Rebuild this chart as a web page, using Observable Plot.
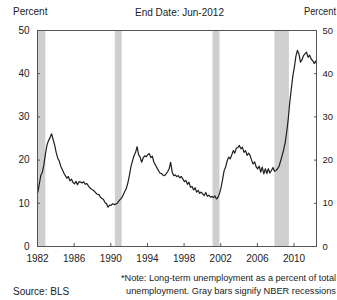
<!DOCTYPE html>
<html>
<head>
<meta charset="utf-8">
<script src="https://cdn.jsdelivr.net/npm/d3@7"></script>
<script src="https://cdn.jsdelivr.net/npm/@observablehq/plot@0.6"></script>
<style>
  html, body { margin: 0; padding: 0; background: #fff; }
  body { width: 337px; height: 300px; overflow: hidden; position: relative; font-family: "Liberation Sans", Arial, sans-serif; color: #222; }
  .t { position: absolute; white-space: nowrap; font-size: 10px; line-height: 1; transform-origin: 0 0; }
  #chart { position: absolute; left: 0; top: 0; }
</style>
</head>
<body>
<div id="chart"></div>
<div class="t" style="left:13px; top:7px;">Percent</div>
<div class="t" style="left:135px; top:8px;">End Date: Jun-2012</div>
<div class="t fit" style="left:304px; top:7px;">Percent</div>
<div class="t fit" style="left:121px; top:273px; font-size:9.5px;">*Note: Long-term unemployment as a percent of total</div>
<div class="t fit" style="left:126px; top:286px; font-size:9.5px;">unemployment. Gray bars signify NBER recessions</div>
<div class="t" style="left:13px; top:287px;">Source: BLS</div>
<script>
const dates = [
  "1982-01","1982-03","1982-05","1982-07","1982-09","1982-11",
  "1983-01","1983-03","1983-05","1983-07","1983-09","1983-11",
  "1984-01","1984-03","1984-05","1984-07","1984-09","1984-11",
  "1985-01","1985-03","1985-05","1985-07","1985-09","1985-11",
  "1986-01","1986-03","1986-05","1986-07","1986-09","1986-11",
  "1987-01","1987-03","1987-05","1987-07","1987-09","1987-11",
  "1988-01","1988-03","1988-05","1988-07","1988-09","1988-11",
  "1989-01","1989-03","1989-05","1989-07","1989-09","1989-11",
  "1990-01","1990-03","1990-05","1990-07","1990-09","1990-11",
  "1991-01","1991-03","1991-05","1991-07","1991-09","1991-11",
  "1992-01","1992-03","1992-05","1992-07","1992-09","1992-11",
  "1993-01","1993-03","1993-05","1993-07","1993-09","1993-11",
  "1994-01","1994-03","1994-05","1994-07","1994-09","1994-11",
  "1995-01","1995-03","1995-05","1995-07","1995-09","1995-11",
  "1996-01","1996-03","1996-05","1996-07","1996-09","1996-11",
  "1997-01","1997-03","1997-05","1997-07","1997-09","1997-11",
  "1998-01","1998-03","1998-05","1998-07","1998-09","1998-11",
  "1999-01","1999-03","1999-05","1999-07","1999-09","1999-11",
  "2000-01","2000-03","2000-05","2000-07","2000-09","2000-11",
  "2001-01","2001-03","2001-05","2001-07","2001-09","2001-11",
  "2002-01","2002-03","2002-05","2002-07","2002-09","2002-11",
  "2003-01","2003-03","2003-05","2003-07","2003-09","2003-11",
  "2004-01","2004-03","2004-05","2004-07","2004-09","2004-11",
  "2005-01","2005-03","2005-05","2005-07","2005-09","2005-11",
  "2006-01","2006-03","2006-05","2006-07","2006-09","2006-11",
  "2007-01","2007-03","2007-05","2007-07","2007-09","2007-11",
  "2008-01","2008-03","2008-05","2008-07","2008-09","2008-11",
  "2009-01","2009-03","2009-05","2009-07","2009-09","2009-11",
  "2010-01","2010-03","2010-05","2010-07","2010-09","2010-11",
  "2011-01","2011-03","2011-05","2011-07","2011-09","2011-11",
  "2012-01","2012-03","2012-05","2012-06"
];
const share = [
  12.6,14.5,16.5,17.2,19.0,21.5,
  23.5,24.5,25.2,26.1,24.8,23.5,
  21.8,20.5,19.8,18.6,17.8,17.0,
  16.4,15.8,16.2,15.2,15.6,14.8,
  14.5,15.1,14.3,15.0,14.9,14.7,
  15.0,14.4,14.6,14.1,13.6,13.3,
  13.1,12.8,12.4,12.1,12.0,11.4,
  11.1,10.9,10.2,9.9,9.1,9.6,
  9.5,9.9,9.7,9.8,10.0,10.5,
  10.9,11.3,12.0,12.8,13.5,14.8,
  16.5,18.5,19.8,21.0,21.8,23.1,
  21.2,20.7,19.5,20.5,21.0,20.8,
  21.3,21.5,20.6,20.9,19.5,18.9,
  18.2,17.6,17.0,16.9,16.5,16.4,
  16.8,17.3,18.0,19.5,17.2,16.4,
  16.6,16.2,16.4,15.9,16.2,15.6,
  15.0,15.3,14.4,14.9,13.7,13.9,
  13.1,13.6,12.6,13.0,12.3,12.6,
  12.2,11.8,12.5,11.6,11.9,11.4,
  11.6,11.3,11.7,11.0,11.4,12.3,
  13.7,15.5,17.5,18.4,19.8,20.7,
  20.3,21.2,22.2,21.6,22.8,22.9,
  23.4,22.6,23.0,21.8,22.2,21.1,
  21.6,21.1,20.0,19.1,19.6,18.4,
  18.0,18.6,17.2,18.4,16.8,18.0,
  16.9,18.0,17.0,17.6,18.3,17.4,
  17.6,18.0,18.6,19.8,21.1,22.4,
  24.1,26.5,29.5,33.4,36.5,39.5,
  41.5,44.0,45.4,44.6,42.7,43.2,
  44.2,44.6,45.0,43.8,44.3,43.4,
  43.0,42.4,42.9,42.3
];
const recessionStart = ["1981-07-01","1990-07-01","2001-03-01","2007-12-01"];
const recessionEnd   = ["1982-11-30","1991-03-31","2001-11-30","2009-06-30"];
const yTicks = [0, 10, 20, 30, 40, 50];
const xTickYears = [1982, 1986, 1990, 1994, 1998, 2002, 2006, 2010];

const series = dates.map((d, i) => ({date: new Date(d + "-15T00:00:00Z"), value: share[i]}));
const recessions = recessionStart.map((s, i) => ({start: new Date(s + "T00:00:00Z"), end: new Date(recessionEnd[i] + "T00:00:00Z")}));
const xTicks = xTickYears.map(y => new Date(Date.UTC(y, 0, 1)));

const chart = Plot.plot({
  width: 337,
  height: 300,
  marginLeft: 37,
  marginRight: 21,
  marginTop: 30,
  marginBottom: 54,
  style: {fontFamily: "'Liberation Sans', Arial, sans-serif", fontSize: "10px", color: "#222", background: "#fff"},
  x: {type: "utc", domain: [new Date(Date.UTC(1982, 0, 1)), new Date(Date.UTC(2012, 5, 15))]},
  y: {domain: [0, 50]},
  marks: [
    Plot.rect(recessions, {x1: "start", x2: "end", fill: "#cfcfcf", clip: true}),
    Plot.line(series, {x: "date", y: "value", stroke: "#1e1e1e", strokeWidth: 1.2}),
    Plot.frame({stroke: "#555", strokeWidth: 1}),
    Plot.axisY(yTicks, {anchor: "left", tickSize: -3, tickPadding: 11, label: null, stroke: "#555"}),
    Plot.axisY(yTicks, {anchor: "right", tickSize: -3, tickPadding: 9, label: null, stroke: "#555", textAnchor: "start", fontSize: 9.5}),
    Plot.axisX(xTicks, {anchor: "bottom", tickSize: -3, tickPadding: 11, label: null, tickFormat: d3.utcFormat("%Y"), stroke: "#555"})
  ]
});
document.getElementById("chart").appendChild(chart);

// shrink texts horizontally so they end inside the page
document.querySelectorAll(".fit").forEach(el => {
  const left = el.offsetLeft, w = el.getBoundingClientRect().width;
  const maxRight = 336;
  if (left + w > maxRight) el.style.transform = `scaleX(${(maxRight - left) / w})`;
});
</script>
</body>
</html>
